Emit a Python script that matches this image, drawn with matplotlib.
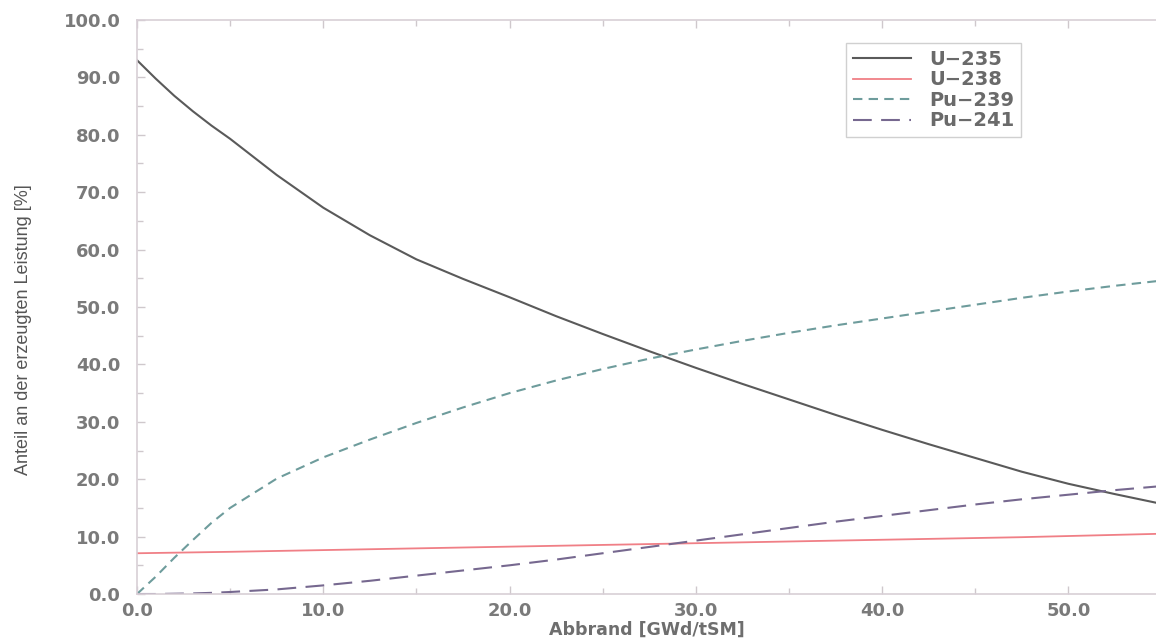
import matplotlib
matplotlib.use("Agg")
import matplotlib.pyplot as plt
from matplotlib.ticker import MultipleLocator, FormatStrFormatter

# Burnup (GWd/tSM) and fission power share (%) per nuclide
burnup = [0, 1, 2, 3, 4, 5, 7.5, 10, 12.5, 15, 17.5, 20, 22.5, 25, 27.5, 30,
          32.5, 35, 37.5, 40, 42.5, 45, 47.5, 50, 52.5, 55]
u235 = [93.0, 89.8, 86.8, 84.1, 81.6, 79.3, 73.0, 67.3, 62.5, 58.3, 54.9, 51.7,
        48.4, 45.3, 42.3, 39.4, 36.6, 33.9, 31.2, 28.6, 26.1, 23.7, 21.3, 19.2,
        17.4, 15.7]
u238 = [7.1, 7.15, 7.2, 7.25, 7.3, 7.35, 7.5, 7.65, 7.8, 7.95, 8.1, 8.25, 8.4,
        8.55, 8.7, 8.85, 9.0, 9.15, 9.3, 9.45, 9.6, 9.75, 9.9, 10.1, 10.3, 10.5]
pu239 = [0.0, 3.0, 6.3, 9.4, 12.4, 15.0, 20.1, 23.8, 26.9, 29.8, 32.5, 35.0,
         37.2, 39.2, 41.0, 42.6, 44.1, 45.5, 46.8, 48.0, 49.2, 50.4, 51.6, 52.7,
         53.7, 54.6]
pu241 = [0.0, 0.0, 0.05, 0.1, 0.2, 0.35, 0.8, 1.5, 2.3, 3.2, 4.1, 5.0, 6.0, 7.1,
         8.2, 9.3, 10.4, 11.5, 12.6, 13.6, 14.6, 15.6, 16.5, 17.3, 18.1, 18.8]

series = [
    ("U\u2212235", u235, "#5a5a5a", "-", 1.5),
    ("U\u2212238", u238, "#f07f86", "-", 1.3),
    ("Pu\u2212239", pu239, "#6e9c9c", (0, (4.5, 3)), 1.5),
    ("Pu\u2212241", pu241, "#76688f", (0, (9, 4.5)), 1.5),
]

fig = plt.figure(figsize=(11.56, 6.43), dpi=100)
ax = fig.add_axes([0.1185, 0.0762, 0.8815, 0.8927])

for label, vals, color, ls, lw in series:
    ax.plot(burnup, vals, color=color, linestyle=ls, linewidth=lw, label=label)

ax.set_xlim(0, 54.7)
ax.set_ylim(0, 100)
ax.xaxis.set_major_locator(MultipleLocator(10))
ax.xaxis.set_minor_locator(MultipleLocator(5))
ax.yaxis.set_major_locator(MultipleLocator(10))
ax.yaxis.set_minor_locator(MultipleLocator(5))
ax.xaxis.set_major_formatter(FormatStrFormatter("%.1f"))
ax.yaxis.set_major_formatter(FormatStrFormatter("%.1f"))

spine_color = "#d8cfd6"
for side in ("left", "top", "bottom"):
    ax.spines[side].set_color(spine_color)
    ax.spines[side].set_linewidth(1.2)
ax.spines["right"].set_visible(False)

ax.tick_params(which="both", direction="in", top=True, right=False,
               color="#cfc8cc", labelcolor="#7a7a7a")
ax.tick_params(which="major", length=6, width=1)
ax.tick_params(which="minor", length=4, width=1)
ax.tick_params(axis="y", which="major", pad=12)
ax.tick_params(axis="x", which="major", pad=6)
for lab in ax.get_xticklabels() + ax.get_yticklabels():
    lab.set_fontfamily("DejaVu Sans")
    lab.set_fontweight("bold")
    lab.set_fontsize(13)

ax.set_xlabel("Abbrand [GWd/tSM]", fontfamily="DejaVu Sans", fontweight="bold",
              fontsize=12.5, color="#6e6e6e", labelpad=0)
ax.set_ylabel("Anteil an der erzeugten Leistung [%]",
              fontfamily=["Liberation Sans Narrow", "Liberation Sans"],
              fontsize=13, color="#555555")
ax.yaxis.set_label_coords(-0.103, 0.46)

leg = ax.legend(loc="upper left", bbox_to_anchor=(0.696, 0.96), frameon=True,
                fancybox=False, edgecolor="#d0d0d0", framealpha=1,
                borderaxespad=0, handlelength=3.0, handletextpad=0.9,
                borderpad=0.35, labelspacing=0.08,
                prop={"family": "DejaVu Sans", "weight": "bold", "size": 14})
for t in leg.get_texts():
    t.set_color("#6a6a6a")
leg.get_frame().set_linewidth(1.0)

fig.savefig("out.png", dpi=100)
